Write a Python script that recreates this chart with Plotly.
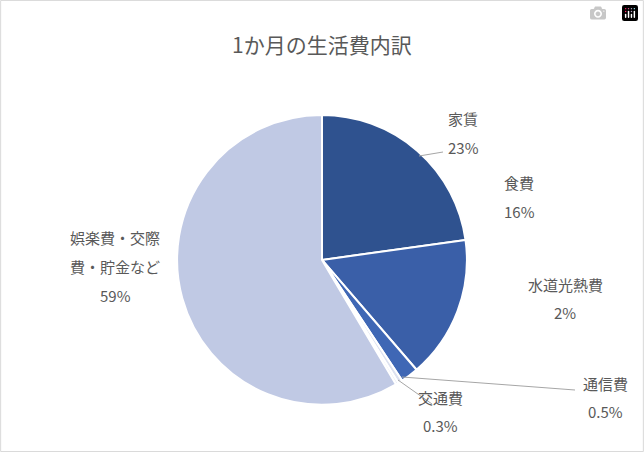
import plotly.graph_objects as go

labels = ["家賃", "食費", "水道光熱費", "通信費", "交通費", "娯楽費・交際費・貯金など"]
values = [23, 16, 2, 0.5, 0.3, 59]
pct_text = ["23%", "16%", "2%", "0.5%", "0.3%", "59%"]
colors = ["#2F528F", "#3A5FA8", "#3F67B5", "#DCE1F0", "#E8ECF6", "#C0C9E4"]

W, H = 644, 452
def px(x, y):
    return x / W, 1 - y / H

fig = go.Figure(go.Pie(
    labels=labels, values=values, sort=False, direction="clockwise", rotation=0,
    marker=dict(colors=colors, line=dict(color="white", width=2)),
    textinfo="none", hoverinfo="label+percent", showlegend=False,
    domain=dict(x=[0.275, 0.725], y=[0.104, 0.746]),
))

label_lines = [
    ("家賃", 463, 118), (pct_text[0], 463, 147),
    ("食費", 519, 182), (pct_text[1], 519, 211),
    ("水道光熱費", 565, 284), (pct_text[2], 565, 312),
    ("通信費", 605, 383), (pct_text[3], 605, 411),
    ("交通費", 440, 397), (pct_text[4], 440, 425),
    ("娯楽費・交際", 115, 237), ("費・貯金など", 115, 266), (pct_text[5], 115, 295),
]
ann = []
for t, x, y in label_lines:
    xx, yy = px(x, y)
    ann.append(dict(text=t, x=xx, y=yy, xref="paper", yref="paper", showarrow=False,
                    font=dict(size=15, color="#595959"), xanchor="center", yanchor="middle"))
tx, ty = px(322, 44)
ann.append(dict(text="1か月の生活費内訳", x=tx, y=ty, xref="paper", yref="paper", showarrow=False,
                font=dict(size=21, color="#595959"), xanchor="center", yanchor="middle"))

shapes = []
for (x0, y0, x1, y1) in [(419, 156, 443, 152), (402, 377, 575, 390), (398, 380, 432, 404)]:
    a, b = px(x0, y0); c, d = px(x1, y1)
    shapes.append(dict(type="line", xref="paper", yref="paper", x0=a, y0=b, x1=c, y1=d,
                       line=dict(color="#A6A6A6", width=1)))
shapes.append(dict(type="rect", xref="paper", yref="paper", x0=0.001, y0=0.001, x1=0.999, y1=0.999,
                   line=dict(color="#D9D9D9", width=1)))

fig.update_layout(width=W, height=H, margin=dict(l=0, r=0, t=0, b=0),
                  paper_bgcolor="white", annotations=ann, shapes=shapes,
                  font=dict(family="Noto Sans CJK JP"))
fig.write_html("out.html",
               post_script="document.body.style.margin='0';document.body.style.overflow='hidden';")
